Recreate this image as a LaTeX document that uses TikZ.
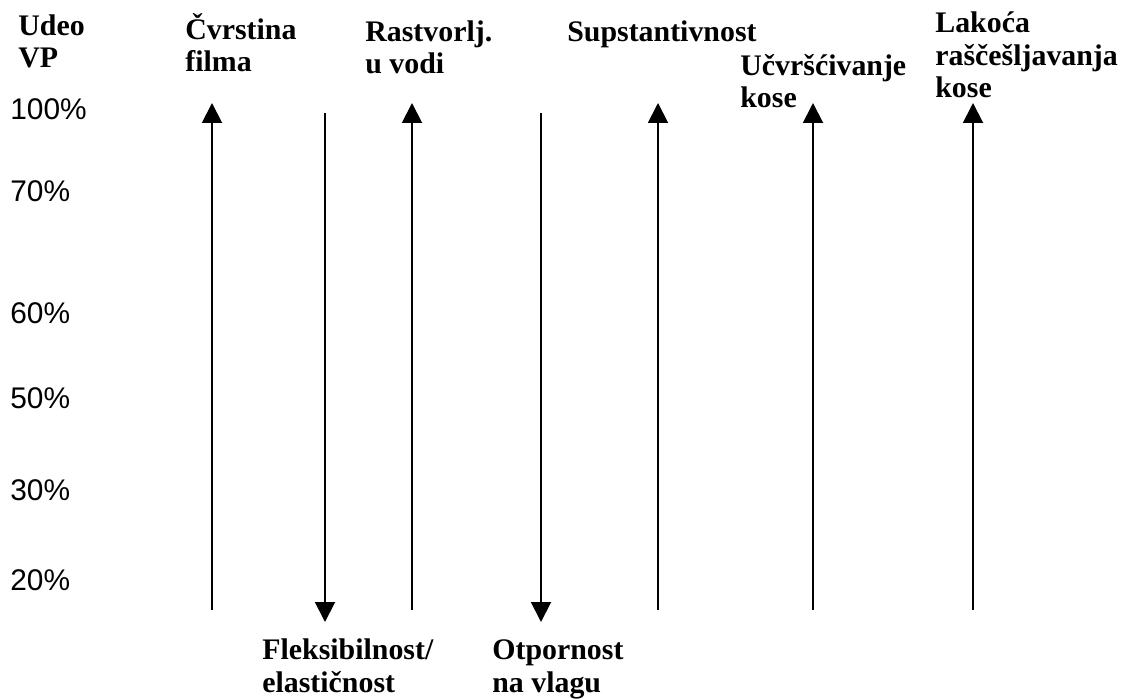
\documentclass[tikz,border=0pt]{standalone}
\usepackage{fontspec}
\setmainfont{Liberation Serif}
\newfontfamily\pctfont{Liberation Sans}
\usetikzlibrary{arrows.meta, positioning}

\begin{document}
\begin{tikzpicture}[
  x=0.02cm, y=-0.02cm,
  >={Triangle[length=4mm, width=4mm]},
  every node/.style={inner sep=0pt},
  prop/.style={font=\fontsize{17}{18.5}\selectfont\bfseries, align=left, anchor=base west},
  pct/.style={font=\fontsize{17}{19}\selectfont\pctfont, anchor=base west},
  axis/.style={line width=1.1pt}
]
\useasboundingbox (0,0) rectangle (1122,699);
% scale on the left
\node[prop] (udeo) at (18,68) {Udeo\\VP};
\node[pct] (p100) at (10,120) {100\%};
\node[pct] (p70) at (10,202) {70\%};
\node[pct] (p60) at (10,323) {60\%};
\node[pct] (p50) at (10,408) {50\%};
\node[pct] (p30) at (10,500) {30\%};
\node[pct] (p20) at (10,590) {20\%};
% properties that rise (base = last line)
\node[prop] (cvrstina) at (185,72) {Čvrstina\\filma};
\node[prop] (rastvorlj) at (365,74) {Rastvorlj.\\u vodi};
\node[prop] (supstant) at (567,42) {Supstantivnost};
\node[prop] (ucvrsc) at (740,108) {Učvršćivanje\\kose};
\node[prop] (lakoca) at (935,98) {Lakoća\\raščešljavanja\\kose};
% properties that fall
\node[prop] (fleks) at (262,692) {Fleksibilnost/\\elastičnost};
\node[prop] (otpor) at (492,692) {Otpornost\\na vlagu};
% arrow ends
\foreach \name/\xx in {cvrstina/212, rastvorlj/412, supstant/658, ucvrsc/813, lakoca/973} {
  \coordinate (\name-bot) at (\xx,610);
  \coordinate (\name-top) at (\xx,103);
  \draw[axis, ->] (\name-bot) -- (\name-top);
}
\foreach \name/\xx in {fleks/325, otpor/541} {
  \coordinate (\name-top) at (\xx,113);
  \coordinate (\name-bot) at (\xx,622);
  \draw[axis, ->] (\name-top) -- (\name-bot);
}
\end{tikzpicture}
\end{document}
